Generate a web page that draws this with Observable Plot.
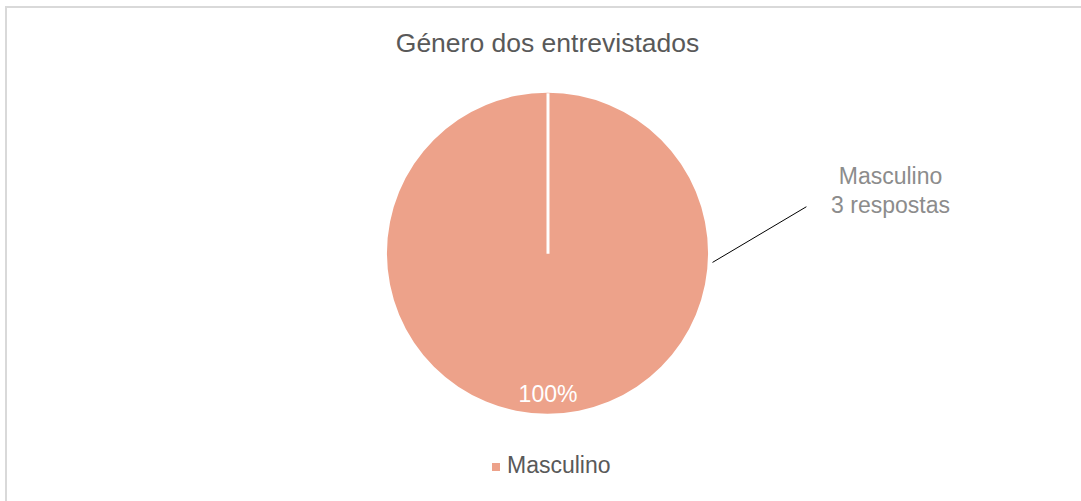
<!DOCTYPE html>
<html><head><meta charset="utf-8">
<script src="https://cdn.jsdelivr.net/npm/d3@7"></script>
<script src="https://cdn.jsdelivr.net/npm/@observablehq/plot@0.6"></script>
<style>
body{margin:0;background:#fff;font-family:"Liberation Sans",Arial,sans-serif;}
#wrap{position:relative;width:1081px;height:501px;overflow:hidden;background:#fff;}
#border{position:absolute;left:5px;top:6px;width:1200px;height:600px;border:2px solid #d9d9d9;box-sizing:border-box;}
#title{position:absolute;left:0;width:1095px;top:28px;line-height:30px;text-align:center;font-size:26.5px;color:#595959;white-space:nowrap;}
#chart{position:absolute;left:0;top:0;}
#legend{position:absolute;left:492px;top:452px;line-height:26px;font-size:23px;color:#595959;white-space:nowrap;}
#legend .sw{position:absolute;left:0;top:11px;width:8px;height:8px;}
#legend .lab{position:absolute;left:15px;top:0;}
</style></head>
<body>
<div id="wrap">
  <div id="border"></div>
  <div id="chart"></div>
  <div id="title"></div>
  <div id="legend"></div>
</div>
<script>
// ---- data ----
const title = "Género dos entrevistados";
const categories = ["Masculino"];
const counts = [3];
const unit = "respostas";
const colors = ["#EDA28A"];

// ---- layout ----
const W = 1081, H = 501;
const cx = 547.5, cy = 253.25, R = 160.5;

const data = categories.map((c, i) => ({category: c, value: counts[i]}));
const total = d3.sum(counts);
const arcs = d3.pie().sort(null).value(d => d.value)(data);

document.getElementById("title").textContent = title;

const pieMark = (index, scales) => {
  const x0 = scales.x(0), y0 = scales.y(0), rad = scales.x(1) - scales.x(0);
  const col = scales.color || d3.scaleOrdinal(categories, colors);
  const g = d3.create("svg:g");
  g.selectAll("path").data(arcs).join("path")
    .attr("transform", `translate(${x0},${y0})`)
    .attr("d", d3.arc().innerRadius(0).outerRadius(rad))
    .attr("fill", d => col(d.data.category));
  return g.node();
};

const mid = d => (d.startAngle + d.endAngle) / 2;
// outside data label anchor (pie-radius units)
const labelPos = {x: 2.134, y: 0.403};
const leader = {x1: 1.025, y1: -0.054, x2: 1.61, y2: 0.293};

const chart = Plot.plot({
  width: W, height: H,
  marginTop: 0, marginRight: 0, marginBottom: 0, marginLeft: 0,
  style: {background: "transparent", fontFamily: "'Liberation Sans', Arial, sans-serif"},
  x: {domain: [-cx / R, (W - cx) / R], range: [0, W], axis: null},
  y: {domain: [-(H - cy) / R, cy / R], range: [H, 0], axis: null},
  color: {domain: categories, range: colors},
  marks: [
    Plot.dot(arcs, {x: () => 0, y: () => 0, r: 0, fill: d => d.data.category}),
    pieMark,
    Plot.link(arcs, {x1: () => 0, y1: () => 0, x2: d => Math.sin(d.startAngle), y2: d => Math.cos(d.startAngle), stroke: "white", strokeWidth: 3}),
    Plot.text(arcs, {
      x: d => 0.88 * Math.sin(mid(d)), y: d => 0.88 * Math.cos(mid(d)),
      text: d => d3.format(".0%")(d.value / total),
      fill: "white", fontSize: 23, textAnchor: "middle"
    }),
    Plot.link(arcs, {x1: () => leader.x1, y1: () => leader.y1, x2: () => leader.x2, y2: () => leader.y2, stroke: "black", strokeWidth: 1}),
    Plot.text(arcs, {
      x: () => labelPos.x, y: () => labelPos.y,
      text: d => `${d.data.category}\n${d.value} ${unit}`,
      fill: "#8c8c8c", fontSize: 23, lineHeight: 1.26, textAnchor: "middle"
    })
  ]
});
document.getElementById("chart").appendChild(chart);

const leg = document.getElementById("legend");
categories.forEach((c, i) => {
  const sw = document.createElement("span"); sw.className = "sw"; sw.style.background = colors[i];
  const lb = document.createElement("span"); lb.className = "lab"; lb.textContent = c;
  leg.appendChild(sw); leg.appendChild(lb);
});
</script>
</body></html>
